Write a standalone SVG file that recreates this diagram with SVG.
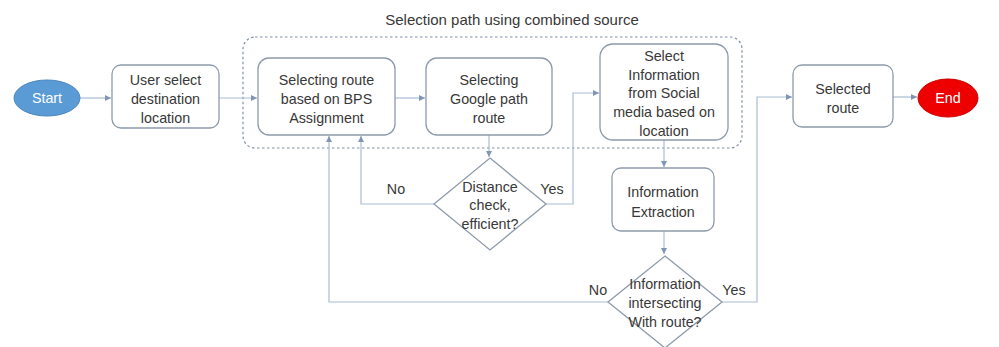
<svg xmlns="http://www.w3.org/2000/svg" width="999" height="347" viewBox="0 0 999 347">
  <style>
    .box { fill: #ffffff; stroke: #8d9aab; stroke-width: 1.3; }
    .dia { fill: #ffffff; stroke: #8d9aab; stroke-width: 1.3; }
    .t { font-family: "Liberation Sans", Arial, sans-serif; font-size: 14.3px; fill: #383838; text-anchor: middle; dominant-baseline: central; }
    .title { font-size: 15px; }
    .tw { fill: #ffffff; }
    .con { fill: none; stroke: #a9bdd6; stroke-width: 1.2; }
    .group { fill: none; stroke: #7f8fa6; stroke-width: 1.2; stroke-dasharray: 2.5 2.5; }
  </style>
  <defs>
    <marker id="arr" viewBox="0 0 6 6" refX="6" refY="3" markerWidth="5" markerHeight="5" orient="auto">
      <path d="M0,0 L6,3 L0,6 z" fill="#7f95b3"/>
    </marker>
  </defs>
  <rect width="999" height="347" fill="#ffffff"/>

  <!-- container for the combined-source stage -->
  <g id="combined-source">
    <text class="t title" x="512" y="19">Selection path using combined source</text>
    <rect class="group" x="243" y="37" width="499" height="111" rx="12"/>
  </g>

  <!-- connectors -->
  <g id="connectors">
    <path class="con" d="M80,98 H111" marker-end="url(#arr)"/>
    <path class="con" d="M219,98 H257" marker-end="url(#arr)"/>
    <path class="con" d="M395,98 H425" marker-end="url(#arr)"/>
    <path class="con" d="M489,135 V157" marker-end="url(#arr)"/>
    <path class="con" d="M434,204 H361 V136" marker-end="url(#arr)"/>
    <path class="con" d="M546,204 H573 V93 H599" marker-end="url(#arr)"/>
    <path class="con" d="M664,140 V167" marker-end="url(#arr)"/>
    <path class="con" d="M664,231 V254" marker-end="url(#arr)"/>
    <path class="con" d="M608,302 H329 V136" marker-end="url(#arr)"/>
    <path class="con" d="M722,302 H757 V97 H792" marker-end="url(#arr)"/>
    <path class="con" d="M893,97 H917" marker-end="url(#arr)"/>
    <text class="t" x="396" y="189">No</text>
    <text class="t" x="552" y="189">Yes</text>
    <text class="t" x="598" y="290">No</text>
    <text class="t" x="734" y="290">Yes</text>
  </g>

  <g id="start">
    <ellipse cx="47" cy="98" rx="33" ry="18" fill="#5b9bd5" stroke="#4a86bf" stroke-width="1"/>
    <text class="t tw" x="47" y="98">Start</text>
  </g>

  <g id="user-select">
    <rect class="box" x="112" y="65" width="107" height="63" rx="9"/>
    <text class="t" x="165.5" y="80">User select</text>
    <text class="t" x="165.5" y="99">destination</text>
    <text class="t" x="165.5" y="118">location</text>
  </g>

  <g id="bps-route">
    <rect class="box" x="258" y="58" width="137" height="77" rx="11"/>
    <text class="t" x="326.5" y="80">Selecting route</text>
    <text class="t" x="326.5" y="99">based on BPS</text>
    <text class="t" x="326.5" y="118">Assignment</text>
  </g>

  <g id="google-route">
    <rect class="box" x="426" y="58" width="126" height="77" rx="11"/>
    <text class="t" x="489" y="80">Selecting</text>
    <text class="t" x="489" y="99">Google path</text>
    <text class="t" x="489" y="118">route</text>
  </g>

  <g id="social-info">
    <rect class="box" x="600" y="44" width="128" height="96" rx="13"/>
    <text class="t" x="664" y="56">Select</text>
    <text class="t" x="664" y="75">Information</text>
    <text class="t" x="664" y="93">from Social</text>
    <text class="t" x="664" y="112">media based on</text>
    <text class="t" x="664" y="131">location</text>
  </g>

  <g id="distance-check">
    <polygon class="dia" points="490,158 546,204 490,250 434,204"/>
    <text class="t" x="490" y="187">Distance</text>
    <text class="t" x="490" y="205">check,</text>
    <text class="t" x="490" y="224">efficient?</text>
  </g>

  <g id="info-extraction">
    <rect class="box" x="612" y="168" width="102" height="63" rx="9"/>
    <text class="t" x="663" y="192">Information</text>
    <text class="t" x="663" y="212">Extraction</text>
  </g>

  <g id="intersect-check">
    <polygon class="dia" points="665,256 722,302 665,348 608,302"/>
    <text class="t" x="665" y="284">Information</text>
    <text class="t" x="665" y="303">intersecting</text>
    <text class="t" x="665" y="322">With route?</text>
  </g>

  <g id="selected-route">
    <rect class="box" x="793" y="65" width="100" height="62" rx="9"/>
    <text class="t" x="843" y="89">Selected</text>
    <text class="t" x="843" y="108">route</text>
  </g>

  <g id="end">
    <ellipse cx="948" cy="98" rx="30" ry="19" fill="#ee0000" stroke="#cc0000" stroke-width="1"/>
    <text class="t tw" x="948" y="98">End</text>
  </g>
</svg>
